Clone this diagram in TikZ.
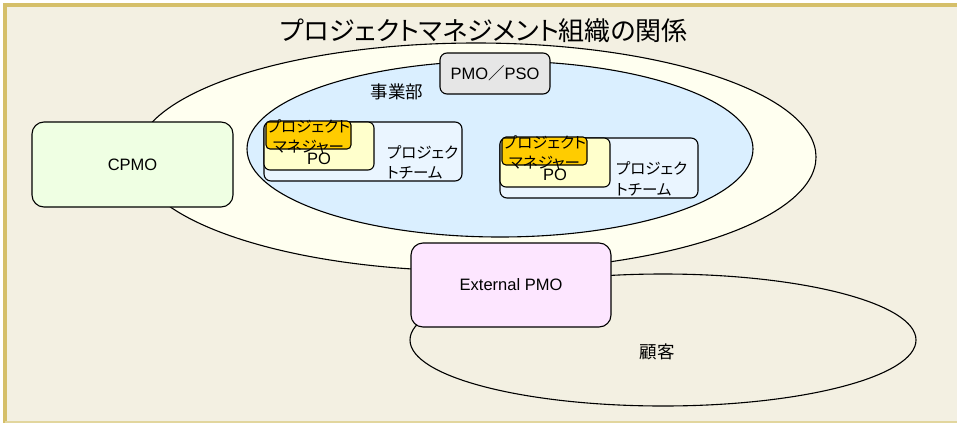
\documentclass[tikz,border=0pt]{standalone}
\usepackage{fontspec}
\setmainfont{Liberation Sans}
\newfontfamily\jp{Noto Sans CJK JP}
\newfontfamily\jpp{Noto Sans CJK JP}[RawFeature=+palt]
\usepackage{tikz}
\usetikzlibrary{shapes.geometric, positioning}

\definecolor{bgcream}{HTML}{F3F0E2}
\definecolor{framegold}{HTML}{D5BF69}
\definecolor{framelight}{HTML}{E2D69E}
\definecolor{orgfill}{HTML}{FFFFF0}
\definecolor{divfill}{HTML}{DAEFFF}
\definecolor{teamfill}{HTML}{EAF5FF}
\definecolor{pofill}{HTML}{FFFFCC}
\definecolor{pmfill}{HTML}{FFCC00}
\definecolor{pmofill}{HTML}{E6E6E6}
\definecolor{cpmofill}{HTML}{EFFFE3}
\definecolor{extfill}{HTML}{FDE6FF}

\begin{document}
\begin{tikzpicture}[
        x=1pt, y=-1pt,
        every node/.style={inner sep=0pt, outer sep=0pt},
        area/.style={draw, ellipse, line width=1.1pt},
        bigbox/.style={draw, rectangle, line width=1.1pt, rounded corners=12pt},
        smallbox/.style={draw, rectangle, line width=1.1pt, rounded corners=7pt},
        latin/.style={font=\fontsize{16.5}{20}\selectfont},
        jpsmall/.style={font=\jpp\fontsize{15.5}{20.5}\selectfont}
    ]

    % background and frame
    \useasboundingbox (0,0) rectangle (957,423);
    \fill[white] (0,0) rectangle (957,423);
    \fill[bgcream] (3,3) rectangle (957,423);
    \draw[framegold, line width=3.5pt] (5,423) -- (5,5) -- (957,5);
    \draw[framelight, line width=1.6pt] (5,422.2) -- (957,422.2);

    % title
    \node[font=\jpp\fontsize{26}{30}\selectfont] (title) at (484,31)
        {プロジェクトマネジメント組織の関係};

    % organisation and customer
    \node[area, fill=orgfill, minimum width=680pt, minimum height=228pt] (org) at (476,157) {};
    \node[area, minimum width=506pt, minimum height=132pt] (cust) at (663,340) {};
    \node[font=\jp\fontsize{17.5}{20}\selectfont] (custlabel) at (657,352) {顧客};

    % division
    \node[area, fill=divfill, minimum width=506pt, minimum height=176pt] (div) at (500,149) {};
    \node[font=\jp\fontsize{17.5}{20}\selectfont] (divlabel) at (397,92) {事業部};
    \node[smallbox, fill=pmofill, latin, minimum width=110pt, minimum height=41pt] (pmo) at (495,73.5)
        {PMO{\jp／}PSO};

    % first project team
    \node[smallbox, fill=teamfill, minimum width=198pt, minimum height=59pt] (team1) at (363,151.5) {};
    \node[smallbox, fill=pofill, anchor=north west, minimum width=110pt, minimum height=48pt,
        rounded corners=6pt] (po1) at (team1.north west) {};
    \node[smallbox, fill=pmfill, anchor=north west, minimum width=85pt, minimum height=28pt,
        rounded corners=4pt] (pm1) at ([xshift=2pt, yshift=1pt]team1.north west) {};
    \node[latin] (po1label) at ([yshift=-12.5pt]po1.center) {PO};
    \node[jpsmall, align=center] (pm1label) at ([yshift=-2pt]pm1.center) {プロジェクト\\マネジャー};
    \node[jpsmall, align=left, anchor=west] (team1label) at ([xshift=123pt, yshift=-40.5pt]team1.north west)
        {プロジェク\\トチーム};

    % second project team
    \node[smallbox, fill=teamfill, minimum width=198pt, minimum height=60pt] (team2) at (599,168) {};
    \node[smallbox, fill=pofill, anchor=north west, minimum width=110pt, minimum height=49pt,
        rounded corners=6pt] (po2) at (team2.north west) {};
    \node[smallbox, fill=pmfill, anchor=north west, minimum width=85pt, minimum height=28pt,
        rounded corners=4pt] (pm2) at ([xshift=2pt, yshift=1pt]team2.north west) {};
    \node[latin] (po2label) at ([yshift=-12.5pt]po2.center) {PO};
    \node[jpsmall, align=center] (pm2label) at ([yshift=-2pt]pm2.center) {プロジェクト\\マネジャー};
    \node[jpsmall, align=left, anchor=west] (team2label) at ([xshift=116pt, yshift=-41pt]team2.north west)
        {プロジェク\\トチーム};

    % outer boxes
    \node[bigbox, fill=cpmofill, latin, minimum width=201pt, minimum height=85pt] (cpmo) at (132.5,164.5) {CPMO};
    \node[bigbox, fill=extfill, latin, minimum width=200pt, minimum height=84pt] (ext) at (511,285) {External PMO};

\end{tikzpicture}
\end{document}
